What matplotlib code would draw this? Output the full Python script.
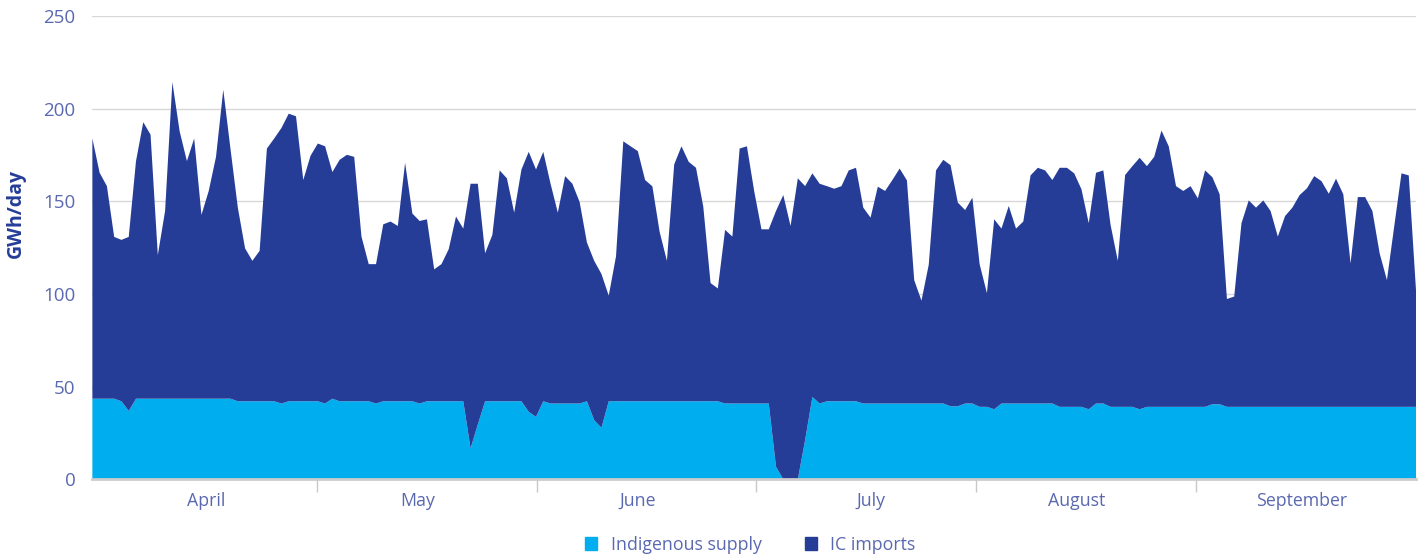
import matplotlib
matplotlib.use("Agg")
import matplotlib.pyplot as plt
from matplotlib.patches import Patch
import numpy as np

plt.rcParams['font.family'] = ['Open Sans', 'DejaVu Sans']

# daily values, 1 April - 30 September (GWh/day)
indigenous = [
    43.5, 43.5, 43.5, 43.5, 42.1, 36.9, 43.5, 43.5, 43.5, 43.5,
    43.5, 43.5, 43.5, 43.5, 43.5, 43.5, 43.5, 43.5, 43.5, 43.5,
    42.1, 42.1, 42.1, 42.1, 42.1, 42.1, 40.9, 42.1, 42.1, 42.1,
    42.1, 42.1, 40.9, 43.5, 42.1, 42.1, 42.1, 42.1, 42.1, 40.9,
    42.1, 42.1, 42.1, 42.1, 42.1, 40.9, 42.1, 42.1, 42.1, 42.1,
    42.1, 42.1, 16.7, 29.6, 42.1, 42.1, 42.1, 42.1, 42.1, 42.1,
    36.4, 33.7, 42.1, 40.9, 40.9, 40.9, 40.9, 40.9, 42.1, 31.9,
    27.8, 42.1, 42.1, 42.1, 42.1, 42.1, 42.1, 42.1, 42.1, 42.1,
    42.1, 42.1, 42.1, 42.1, 42.1, 42.1, 42.1, 40.9, 40.9, 40.9,
    40.9, 40.9, 40.9, 40.9, 6.8, 0.0, 0.0, 0.0, 21.1, 44.4,
    40.9, 42.1, 42.1, 42.1, 42.1, 42.1, 40.9, 40.9, 40.9, 40.9,
    40.9, 40.9, 40.9, 40.9, 40.9, 40.9, 40.9, 40.9, 39.4, 39.4,
    40.9, 40.9, 39.1, 39.1, 37.8, 40.9, 40.9, 40.9, 40.9, 40.9,
    40.9, 40.9, 40.9, 39.1, 39.1, 39.1, 39.1, 37.8, 40.9, 40.9,
    39.1, 39.1, 39.1, 39.1, 37.8, 39.1, 39.1, 39.1, 39.1, 39.1,
    39.1, 39.1, 39.1, 39.1, 40.5, 40.5, 39.1, 39.1, 39.1, 39.1,
    39.1, 39.1, 39.1, 39.1, 39.1, 39.1, 39.1, 39.1, 39.1, 39.1,
    39.1, 39.1, 39.1, 39.1, 39.1, 39.1, 39.1, 39.1, 39.1, 39.1,
    39.1, 39.1, 39.1,
]

ic_imports = [
    140.4, 121.9, 114.7, 87.3, 87.1, 93.9, 128.2, 149.2, 142.5, 77.5,
    101.3, 170.8, 144.3, 128.2, 140.4, 99.2, 112.1, 130.5, 166.7, 134.5,
    104.5, 82.5, 75.8, 81.2, 136.4, 141.8, 148.7, 155.2, 153.8, 119.4,
    132.5, 139.1, 138.8, 122.3, 130.3, 133.0, 131.9, 88.9, 74.0, 75.2,
    95.5, 97.0, 94.6, 128.7, 101.3, 98.5, 98.2, 71.2, 74.0, 82.1,
    99.7, 93.2, 142.8, 129.9, 79.9, 89.8, 124.6, 120.3, 101.8, 125.1,
    140.3, 133.5, 134.6, 118.6, 103.0, 122.7, 118.6, 108.7, 85.7, 86.0,
    83.0, 57.0, 78.2, 140.3, 137.6, 135.0, 119.4, 116.0, 91.4, 75.8,
    127.8, 137.6, 129.2, 126.0, 105.0, 63.8, 60.9, 93.7, 90.1, 137.6,
    138.8, 114.6, 94.0, 94.0, 138.0, 153.4, 136.7, 162.4, 137.1, 120.7,
    118.6, 116.1, 114.7, 116.1, 124.6, 126.0, 105.7, 100.3, 117.0, 114.7,
    120.6, 126.8, 120.4, 66.6, 55.5, 74.9, 125.8, 131.5, 130.1, 109.9,
    104.4, 111.1, 76.9, 61.4, 102.5, 94.4, 106.6, 94.4, 98.2, 123.1,
    127.2, 125.8, 120.6, 129.0, 129.0, 126.0, 117.4, 100.4, 124.5, 125.8,
    98.2, 78.8, 125.1, 129.9, 135.7, 129.9, 134.9, 149.1, 140.6, 119.1,
    116.5, 119.1, 112.5, 127.6, 122.5, 113.3, 58.2, 59.5, 99.1, 111.4,
    107.5, 111.4, 105.7, 91.9, 103.0, 107.5, 114.3, 117.9, 124.5, 121.8,
    115.0, 123.1, 114.7, 77.4, 113.2, 113.2, 105.7, 82.8, 68.4, 97.3,
    126.0, 124.9, 62.7,
]

months = ['April', 'May', 'June', 'July', 'August', 'September']

c_indig = '#00aeef'
c_ic = '#253d97'
c_text = '#5a68b0'

days = np.arange(len(indigenous))

fig = plt.figure(figsize=(14.21, 5.6), dpi=100)
ax = fig.add_axes([0.065, 0.1441, 0.9315, 0.8273])

ax.stackplot(days, indigenous, ic_imports, colors=[c_indig, c_ic],
             linewidth=0, zorder=2)

ax.set_xlim(0, len(days) - 1)
ax.set_ylim(0, 250)
ax.set_yticks(np.arange(0, 251, 50))
ax.grid(axis='y', color='#d8d8d8', linewidth=1, zorder=0)
ax.set_axisbelow(True)

# month boundaries as ticks, names near the middle of each month
edges = np.linspace(0.7, len(days) - 1.1, len(months) + 1)
ax.set_xticks(edges[1:-1])
ax.set_xticklabels([])
ax.set_xticks([15.7, 44.7, 75.0, 107.0, 135.4, 166.3], minor=True)
ax.set_xticklabels(months, minor=True)
ax.tick_params(axis='x', which='major', length=9, width=1, color='#c8c8c8')
ax.tick_params(axis='x', which='minor', length=0, pad=9, labelsize=12.8,
               labelcolor=c_text)
ax.tick_params(axis='y', length=0, pad=12, labelsize=13.5, labelcolor=c_text)

for s in ['top', 'right', 'left']:
    ax.spines[s].set_visible(False)
ax.spines['bottom'].set_color('#cccccc')
ax.spines['bottom'].set_linewidth(2)
ax.spines['bottom'].set_zorder(3)

ax.set_ylabel('GWh/day', fontsize=14, fontweight='bold', color=c_ic)
ax.yaxis.set_label_coords(-0.0505, 0.574)

handles = [Patch(color=c_indig, label='Indigenous supply'),
           Patch(color=c_ic, label='IC imports')]
fig.legend(handles=handles, loc='center', bbox_to_anchor=(0.528, 0.027),
           ncol=2, frameon=False, fontsize=12.8, handlelength=0.69,
           handleheight=0.69, handletextpad=0.75, columnspacing=2.42,
           labelcolor=c_text)

fig.savefig('out.png', dpi=100)
